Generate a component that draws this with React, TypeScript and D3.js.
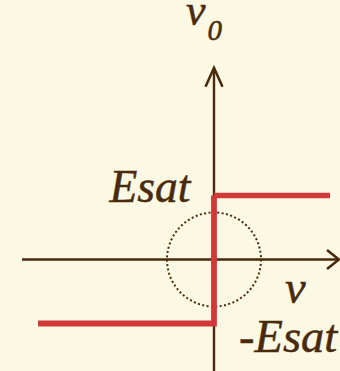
import React from "react";
import * as d3 from "d3";

// Transfer characteristic of an ideal comparator (v in 10px-units, vo in units of Esat)
const lowerBranch: [number, number][] = [
  [-17.6, -1],
  [0, -1],
  [0, 1],
];
const upperBranch: [number, number][] = [
  [0, 1],
  [11.6, 1],
];
const xAxisExtent = [-19.2, 12.5];
const yAxisExtent = [-1.75, 2.995];
const circleRadius = 4.7;
const labels = { vo: "v", voSub: "0", esat: "Esat", v: "v", negEsat: "-Esat" };

const W = 340;
const H = 371;
const BG = "#fbf9e3";
const BROWN = "#4a2a0c";
const RED = "#d13838";
const FONT = "'Liberation Serif', 'Times New Roman', serif";

export default function App() {
  const x = d3.scaleLinear().domain([0, 1]).range([214, 224]);
  const y = d3.scaleLinear().domain([0, 1]).range([259.5, 195.5]);
  const line = d3
    .line<[number, number]>()
    .x((d) => x(d[0]))
    .y((d) => y(d[1]));

  const x0 = x(xAxisExtent[0]);
  const x1 = x(xAxisExtent[1]);
  const yb = y(yAxisExtent[0]);
  const yt = y(yAxisExtent[1]);
  const ox = x(0);
  const oy = y(0);
  const r = x(circleRadius) - x(0);

  return (
    <svg
      width={W}
      height={H}
      style={{ position: "absolute", left: 0, top: 0, display: "block" }}
    >
      <rect width={W} height={H} fill={BG} />
      {/* axes */}
      <line x1={x0} y1={oy} x2={x1 - 1} y2={oy} stroke={BROWN} strokeWidth={2.4} />
      <line x1={ox} y1={yb} x2={ox} y2={yt + 1} stroke={BROWN} strokeWidth={2.4} />
      <polyline
        points={`${x1 - 12},${oy - 9.5} ${x1},${oy} ${x1 - 12},${oy + 9.5}`}
        fill="none"
        stroke={BROWN}
        strokeWidth={2.6}
        strokeLinejoin="miter"
      />
      <polyline
        points={`${ox - 8.5},${yt + 19} ${ox},${yt} ${ox + 8.5},${yt + 19}`}
        fill="none"
        stroke={BROWN}
        strokeWidth={2.6}
        strokeLinejoin="miter"
      />
      {/* dotted circle */}
      <circle
        cx={ox}
        cy={oy}
        r={r}
        fill="none"
        stroke={BROWN}
        strokeWidth={2}
        strokeDasharray="2 2.4"
      />
      {/* transfer curve */}
      <path d={line(lowerBranch) || ""} fill="none" stroke={RED} strokeWidth={5.8} />
      <path d={line(upperBranch) || ""} fill="none" stroke={RED} strokeWidth={5.6} />
      {/* labels */}
      <g
        fill={BROWN}
        stroke={BROWN}
        strokeWidth={0.5}
        fontFamily={FONT}
        fontStyle="italic"
      >
        <text x={186} y={25} fontSize={44}>
          {labels.vo}
        </text>
        <text x={207.5} y={39.5} fontSize={29}>
          {labels.voSub}
        </text>
        <text x={109.5} y={201.7} fontSize={45.5}>
          {labels.esat}
        </text>
        <text x={285} y={303} fontSize={46.5}>
          {labels.v}
        </text>
        <text x={239} y={351.7} fontSize={46.5}>
          {labels.negEsat}
        </text>
      </g>
    </svg>
  );
}
